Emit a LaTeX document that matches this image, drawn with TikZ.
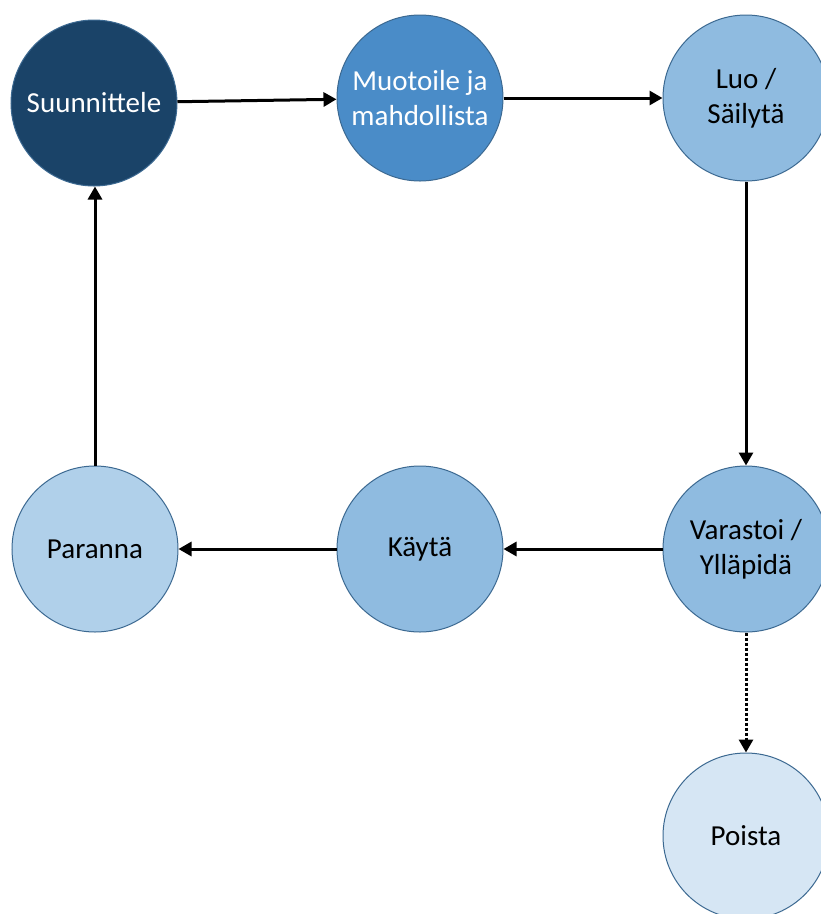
\documentclass[tikz,border=0pt]{standalone}
\usepackage{fontspec}
\setmainfont{Carlito}
\usetikzlibrary{arrows.meta}
\definecolor{planblue}{RGB}{26,67,104}
\definecolor{shapeblue}{RGB}{74,140,200}
\definecolor{midblue}{RGB}{143,187,224}
\definecolor{paleblue}{RGB}{176,208,234}
\definecolor{faintblue}{RGB}{214,230,244}
\definecolor{edgeblue}{RGB}{60,105,145}

\begin{document}
\begin{tikzpicture}[x=1pt,y=-1pt,
    phase/.style={circle,draw=edgeblue,line width=1pt,minimum size=166pt,
                  inner sep=0pt,align=center,font=\fontsize{29}{35}\selectfont},
    flow/.style={line width=3pt,-{Triangle[length=13pt,width=14pt]}}]
  \useasboundingbox (0,0) rectangle (821,914);
  % top row
  \node[phase,fill=planblue,text=white] (suunnittele) at (94,103) {Suunnittele};
  \node[phase,fill=shapeblue,text=white] (muotoile) at (420,98) {Muotoile ja\\mahdollista};
  \node[phase,fill=midblue] (luo) at (746,98) {Luo /\\Säilytä};
  % bottom row
  \node[phase,fill=paleblue] (paranna) at (95,549) {Paranna};
  \node[phase,fill=midblue] (kayta) at (420,549) {Käytä};
  \node[phase,fill=midblue] (varastoi) at (746,549) {Varastoi /\\Ylläpidä};
  \node[phase,fill=faintblue] (poista) at (746,836) {Poista};
  % cycle
  \draw[flow] (suunnittele) -- (muotoile);
  \draw[flow] (muotoile) -- (luo);
  \draw[flow] (luo) -- (varastoi);
  \draw[flow] (varastoi) -- (kayta);
  \draw[flow] (kayta) -- (paranna);
  \draw[flow] (paranna.north) -- (paranna.north |- suunnittele.south);
  \draw[flow,dotted] (varastoi) -- (poista);
\end{tikzpicture}
\end{document}
